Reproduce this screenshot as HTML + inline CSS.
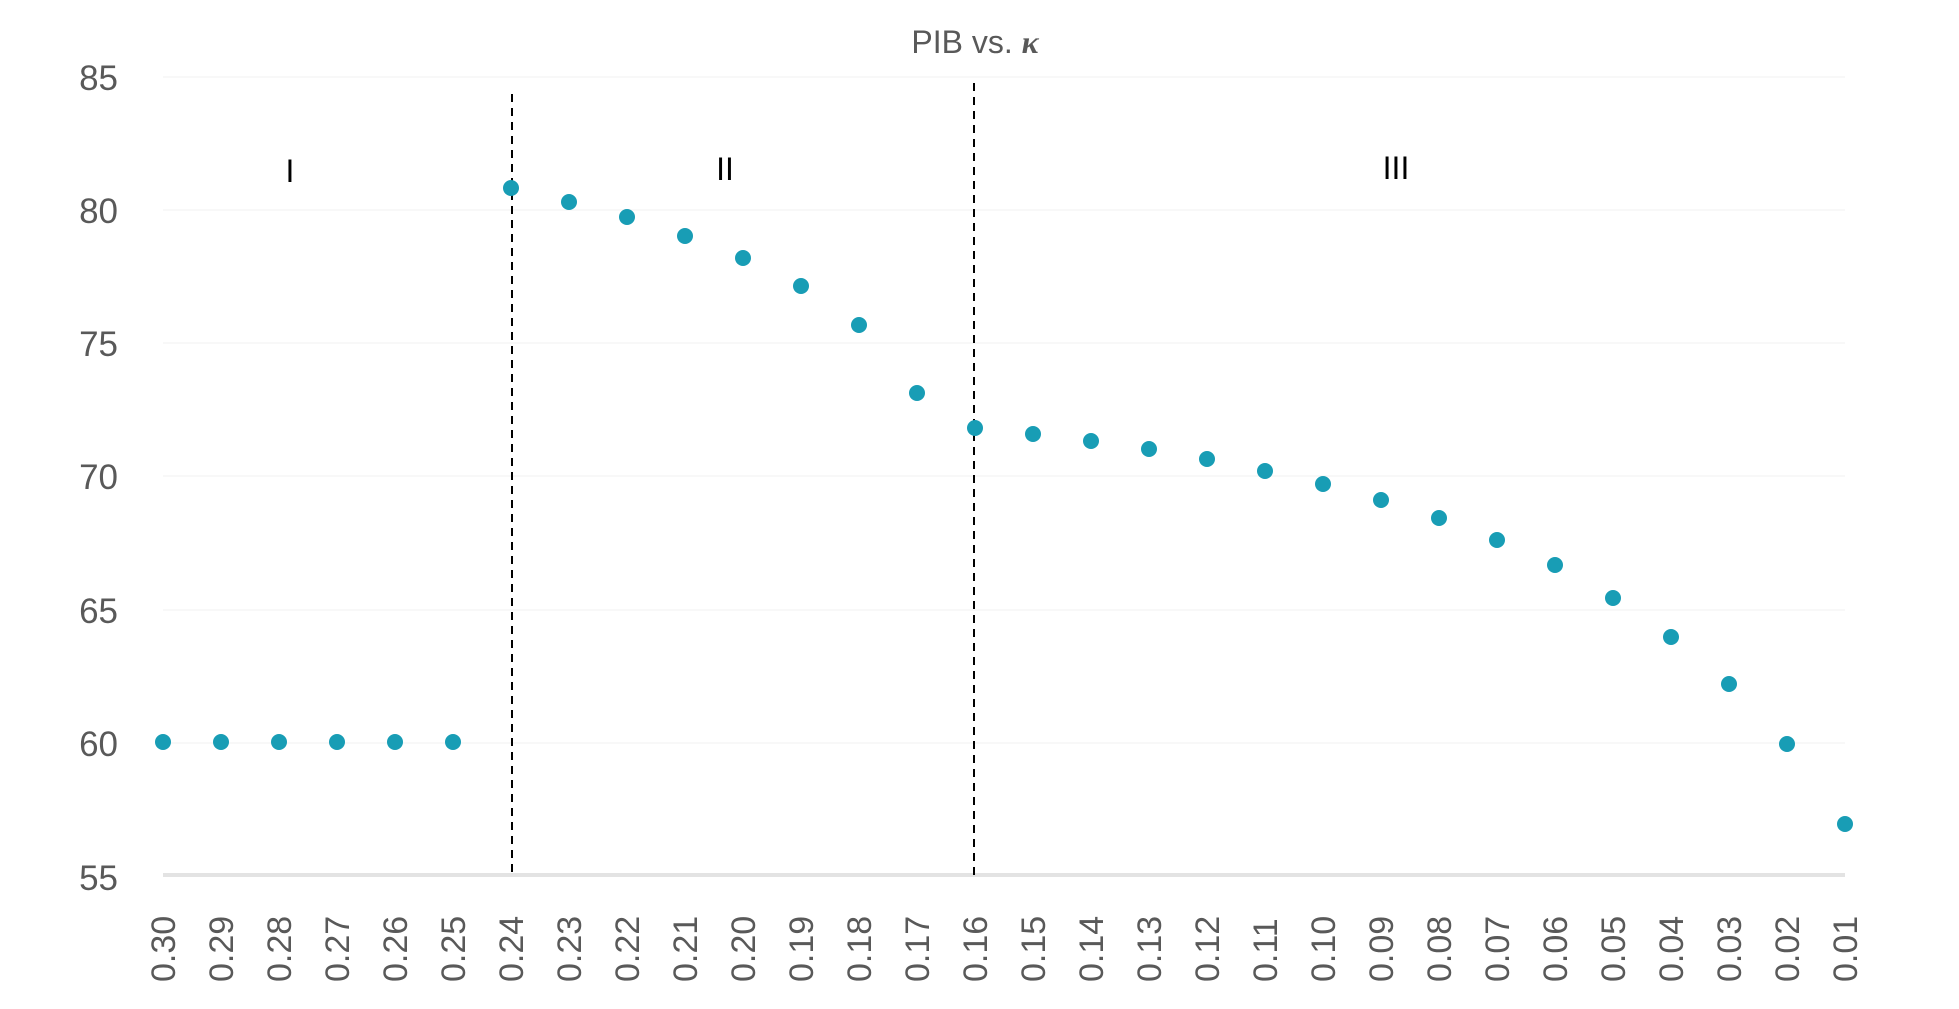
<!DOCTYPE html>
<html><head><meta charset="utf-8"><style>
html,body{margin:0;padding:0;background:#fff;}
svg{display:block;}
</style></head><body>
<svg width="1959" height="1009" viewBox="0 0 1959 1009" xmlns="http://www.w3.org/2000/svg" font-family="'Liberation Sans', sans-serif">
<rect width="1959" height="1009" fill="#fff"/>
<g stroke="#f6f6f6" stroke-width="1.5">
<line x1="163" x2="1845" y1="77" y2="77"/>
<line x1="163" x2="1845" y1="210" y2="210"/>
<line x1="163" x2="1845" y1="343" y2="343"/>
<line x1="163" x2="1845" y1="476" y2="476"/>
<line x1="163" x2="1845" y1="610" y2="610"/>
<line x1="163" x2="1845" y1="743" y2="743"/>
</g>
<line x1="163" x2="1845" y1="875" y2="875" stroke="#e3e3e3" stroke-width="4"/>
<g fill="#595959" font-size="35" text-anchor="end">
<text x="118" y="90">85</text>
<text x="118" y="223">80</text>
<text x="118" y="356">75</text>
<text x="118" y="489">70</text>
<text x="118" y="623">65</text>
<text x="118" y="756">60</text>
<text x="118" y="890">55</text>
</g>
<text x="975" y="53" fill="#595959" font-size="32" text-anchor="middle">PIB vs. <tspan font-family="'Liberation Serif', serif" font-style="italic" font-weight="bold">κ</tspan></text>
<g fill="#000" font-size="32" text-anchor="middle">
<text x="290" y="182">I</text>
<text x="725" y="180">II</text>
<text x="1396" y="179">III</text>
</g>
<g stroke="#000" stroke-width="2" stroke-dasharray="8,6">
<line x1="512" x2="512" y1="94" y2="875"/>
<line x1="974" x2="974" y1="83" y2="875"/>
</g>
<g fill="#189db5">
<circle cx="163" cy="742" r="8"/>
<circle cx="221" cy="742" r="8"/>
<circle cx="279" cy="742" r="8"/>
<circle cx="337" cy="742" r="8"/>
<circle cx="395" cy="742" r="8"/>
<circle cx="453" cy="742" r="8"/>
<circle cx="511" cy="188" r="8"/>
<circle cx="569" cy="202" r="8"/>
<circle cx="627" cy="217" r="8"/>
<circle cx="685" cy="236" r="8"/>
<circle cx="743" cy="258" r="8"/>
<circle cx="801" cy="286" r="8"/>
<circle cx="859" cy="325" r="8"/>
<circle cx="917" cy="393" r="8"/>
<circle cx="975" cy="428" r="8"/>
<circle cx="1033" cy="434" r="8"/>
<circle cx="1091" cy="441" r="8"/>
<circle cx="1149" cy="449" r="8"/>
<circle cx="1207" cy="459" r="8"/>
<circle cx="1265" cy="471" r="8"/>
<circle cx="1323" cy="484" r="8"/>
<circle cx="1381" cy="500" r="8"/>
<circle cx="1439" cy="518" r="8"/>
<circle cx="1497" cy="540" r="8"/>
<circle cx="1555" cy="565" r="8"/>
<circle cx="1613" cy="598" r="8"/>
<circle cx="1671" cy="637" r="8"/>
<circle cx="1729" cy="684" r="8"/>
<circle cx="1787" cy="744" r="8"/>
<circle cx="1845" cy="824" r="8"/>
</g>
<g fill="#595959" font-size="34">
<text transform="translate(175,982) rotate(-90)">0.30</text>
<text transform="translate(233,982) rotate(-90)">0.29</text>
<text transform="translate(291,982) rotate(-90)">0.28</text>
<text transform="translate(349,982) rotate(-90)">0.27</text>
<text transform="translate(407,982) rotate(-90)">0.26</text>
<text transform="translate(465,982) rotate(-90)">0.25</text>
<text transform="translate(523,982) rotate(-90)">0.24</text>
<text transform="translate(581,982) rotate(-90)">0.23</text>
<text transform="translate(639,982) rotate(-90)">0.22</text>
<text transform="translate(697,982) rotate(-90)">0.21</text>
<text transform="translate(755,982) rotate(-90)">0.20</text>
<text transform="translate(813,982) rotate(-90)">0.19</text>
<text transform="translate(871,982) rotate(-90)">0.18</text>
<text transform="translate(929,982) rotate(-90)">0.17</text>
<text transform="translate(987,982) rotate(-90)">0.16</text>
<text transform="translate(1045,982) rotate(-90)">0.15</text>
<text transform="translate(1103,982) rotate(-90)">0.14</text>
<text transform="translate(1161,982) rotate(-90)">0.13</text>
<text transform="translate(1219,982) rotate(-90)">0.12</text>
<text transform="translate(1277,982) rotate(-90)">0.11</text>
<text transform="translate(1335,982) rotate(-90)">0.10</text>
<text transform="translate(1393,982) rotate(-90)">0.09</text>
<text transform="translate(1451,982) rotate(-90)">0.08</text>
<text transform="translate(1509,982) rotate(-90)">0.07</text>
<text transform="translate(1567,982) rotate(-90)">0.06</text>
<text transform="translate(1625,982) rotate(-90)">0.05</text>
<text transform="translate(1683,982) rotate(-90)">0.04</text>
<text transform="translate(1741,982) rotate(-90)">0.03</text>
<text transform="translate(1799,982) rotate(-90)">0.02</text>
<text transform="translate(1857,982) rotate(-90)">0.01</text>
</g>
</svg>
</body></html>
